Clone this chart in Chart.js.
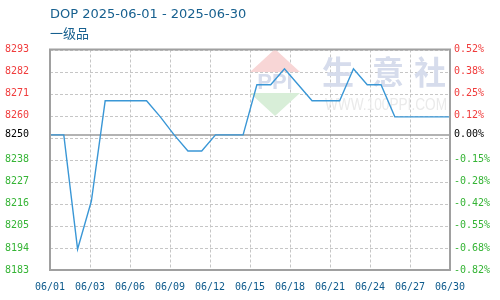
<!DOCTYPE html>
<html>
<head>
<meta charset="utf-8">
<script src="https://cdn.jsdelivr.net/npm/chart.js@4.4.0/dist/chart.umd.min.js"></script>
<style>
  html, body { margin: 0; padding: 0; background: #fff; }
  #wrap { width: 500px; height: 300px; }
</style>
</head>
<body>
<div id="wrap"><canvas id="chPrice"></canvas></div>
<script>
"use strict";

// daily price, 06/01 .. 06/30
const prices = [8250, 8250, 8193, 8217, 8267, 8267, 8267, 8267, 8259, 8250,
                8242, 8242, 8250, 8250, 8250, 8275, 8275, 8283, 8275, 8267,
                8267, 8267, 8283, 8275, 8275, 8259, 8259, 8259, 8259, 8259];
const xLabels = ['06/01','06/03','06/06','06/09','06/12','06/15','06/18','06/21','06/24','06/27','06/30'];
const yTickValues = [8182.6, 8193.6, 8204.6, 8215.6, 8226.6, 8237.6, 8248.6, 8259.6, 8270.6, 8281.6, 8292.6];
const basePrice = 8250;
const titleText = 'DOP 2025-06-01 - 2025-06-30';
const gradeText = '一级品';

const red = '#f03c3c', green = '#35b435', blue = '#0d5a8c';
const tickFont = {family: 'DejaVu Sans Mono', size: 10};

function tickColor(ctx) {
  const v = ctx.tick ? ctx.tick.value : basePrice;
  if (v === basePrice) return '#000';
  return v > basePrice ? red : green;
}
function isHidden(v) {
  return v !== basePrice && Math.abs(v - basePrice) < 5;
}
function yTicks(scale) {
  scale.ticks = yTickValues.concat([basePrice]).sort((a, b) => a - b).map(v => ({value: v}));
}

const frame = {
  id: 'frame',
  beforeDatasetsDraw(chart) {
    const {ctx, chartArea: a} = chart;
    const yScale = chart.scales.y;

    // horizontal dashed grid at the y ticks
    ctx.save();
    ctx.strokeStyle = '#c6c6c6';
    ctx.lineWidth = 1;
    ctx.setLineDash([3, 2]);
    yTickValues.forEach(v => {
      const y = Math.round(yScale.getPixelForValue(v)) + 0.5;
      ctx.beginPath();
      ctx.moveTo(a.left, y); ctx.lineTo(a.right, y);
      ctx.stroke();
    });
    ctx.restore();

    // watermark
    ctx.save();
    const cx = a.right - 175, cy = 82;
    ctx.fillStyle = '#f8d6d6';
    ctx.beginPath();
    ctx.moveTo(cx, cy - 33); ctx.lineTo(cx + 25, cy - 10); ctx.lineTo(cx - 25, cy - 10); ctx.closePath();
    ctx.fill();
    ctx.fillStyle = '#d8eed8';
    ctx.beginPath();
    ctx.moveTo(cx, cy + 34); ctx.lineTo(cx + 25, cy + 11); ctx.lineTo(cx - 25, cy + 11); ctx.closePath();
    ctx.fill();
    ctx.fillStyle = '#d6dcec';
    ctx.textAlign = 'center';
    ctx.textBaseline = 'middle';
    ctx.font = 'bold 22px "Liberation Sans"';
    ctx.fillText('PPI', cx, cy + 1, 46);
    ctx.font = 'bold 32px "Noto Sans CJK SC"';
    ctx.fillText('生', a.right - 112, 72);
    ctx.fillText('意', a.right - 62, 72);
    ctx.fillText('社', a.right - 20, 72);
    ctx.fillStyle = '#eaeaea';
    ctx.font = '16px "Liberation Sans"';
    ctx.fillText('WWW.100PPI.COM', a.right - 64, 106, 122);
    ctx.restore();

    // zero line
    const y0 = yScale.getPixelForValue(basePrice);
    ctx.save();
    ctx.strokeStyle = '#9a9a9a';
    ctx.lineWidth = 1.5;
    ctx.beginPath();
    ctx.moveTo(a.left, y0); ctx.lineTo(a.right, y0);
    ctx.stroke();
    ctx.restore();
  },
  afterDraw(chart) {
    const {ctx, chartArea: a} = chart;
    ctx.save();
    ctx.strokeStyle = '#a0a0a0';
    ctx.lineWidth = 2;
    ctx.strokeRect(a.left, a.top, a.right - a.left, a.bottom - a.top);
    // heading
    ctx.fillStyle = '#17608f';
    ctx.textAlign = 'left';
    ctx.textBaseline = 'middle';
    ctx.font = '13px "DejaVu Sans"';
    ctx.fillText(titleText, a.left, 15);
    ctx.font = '13px "Noto Sans CJK SC"';
    ctx.fillText(gradeText, a.left, 33.5);
    ctx.restore();
  }
};

new Chart(document.getElementById('chPrice'), {
  type: 'line',
  data: {
    datasets: [{
      data: prices.map((v, i) => ({x: i, y: v})),
      borderColor: '#3a97d6',
      borderWidth: 1.4,
      pointRadius: 0,
      tension: 0,
      fill: false
    }]
  },
  options: {
    responsive: true,
    maintainAspectRatio: false,
    animation: false,
    layout: {padding: {left: 5, right: 0, top: 49.5, bottom: 7}},
    plugins: {
      legend: {display: false},
      tooltip: {enabled: false}
    },
    scales: {
      x: {
        type: 'linear',
        min: 0,
        max: prices.length - 1,
        afterBuildTicks(scale) {
          scale.ticks = xLabels.map((l, k) => ({value: k * (prices.length - 1) / (xLabels.length - 1)}));
        },
        afterFit(scale) { scale.height = 23; },
        ticks: {
          autoSkip: false,
          maxRotation: 0,
          padding: 11,
          color: blue,
          font: tickFont,
          callback: (v, i) => xLabels[i]
        },
        grid: {color: '#c6c6c6', lineWidth: 1, drawTicks: false},
        border: {display: false, dash: [3, 2]}
      },
      y: {
        position: 'left',
        min: yTickValues[0],
        max: yTickValues[yTickValues.length - 1],
        afterBuildTicks: yTicks,
        afterFit(scale) { scale.width = 45; },
        ticks: {
          crossAlign: 'far',
          autoSkip: false,
          color: tickColor,
          font: tickFont,
          callback: v => isHidden(v) ? '' : String(Math.round(v))
        },
        grid: {display: false, drawTicks: false},
        border: {display: false}
      },
      y2: {
        position: 'right',
        min: yTickValues[0],
        max: yTickValues[yTickValues.length - 1],
        afterBuildTicks: yTicks,
        afterFit(scale) { scale.width = 50; },
        ticks: {
          autoSkip: false,
          padding: 4,
          color: tickColor,
          font: tickFont,
          callback: v => isHidden(v) ? '' : ((v - basePrice) / basePrice * 100).toFixed(2) + '%'
        },
        grid: {display: false, drawTicks: false},
        border: {display: false}
      }
    }
  },
  plugins: [frame]
});
</script>
</body>
</html>
